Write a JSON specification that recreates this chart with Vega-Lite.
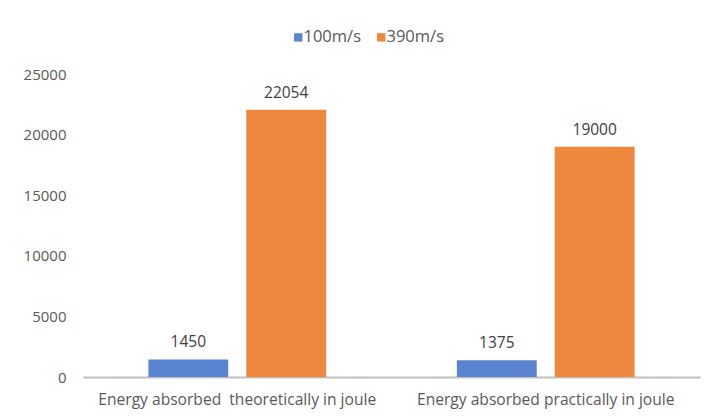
{
  "$schema": "https://vega.github.io/schema/vega-lite/v6.json",
  "autosize": "none",
  "width": 617,
  "height": 303,
  "padding": {"left": 83, "top": 74, "right": 12, "bottom": 39},
  "background": "white",
  "config": {
    "view": {"stroke": null},
    "font": "Open Sans",
    "axis": {"labelFont": "Open Sans", "labelColor": "#595959", "grid": false, "ticks": false, "title": null}
  },
  "data": {
    "values": [
      {"category": "Energy absorbed\u00a0 theoretically in joule", "speed": "100m/s", "energy": 1450},
      {"category": "Energy absorbed\u00a0 theoretically in joule", "speed": "390m/s", "energy": 22054},
      {"category": "Energy absorbed practically in joule", "speed": "100m/s", "energy": 1375},
      {"category": "Energy absorbed practically in joule", "speed": "390m/s", "energy": 19000}
    ]
  },
  "encoding": {
    "x": {
      "field": "category", "type": "nominal", "sort": null,
      "scale": {"paddingInner": 0, "paddingOuter": 0},
      "axis": {"labelAngle": 0, "labelFontSize": 15.6, "labelPadding": 15, "domainColor": "#bfbfbf", "domainWidth": 2, "labelLimit": 400}
    },
    "xOffset": {"field": "speed", "type": "nominal", "scale": {"paddingInner": 0.1837, "paddingOuter": 0.668}},
    "y": {
      "field": "energy", "type": "quantitative",
      "scale": {"domain": [0, 25000]},
      "axis": {"values": [0, 5000, 10000, 15000, 20000, 25000], "format": "d", "domain": false, "labelFontSize": 15, "labelPadding": 17}
    }
  },
  "layer": [
    {
      "mark": {"type": "bar"},
      "encoding": {
        "color": {
          "field": "speed", "type": "nominal",
          "scale": {"domain": ["100m/s", "390m/s"], "range": ["#5A84CF", "#F0873F"]},
          "legend": {
            "title": null, "orient": "none", "direction": "horizontal",
            "legendX": 207, "legendY": -45,
            "symbolType": "square", "symbolSize": 70, "symbolStrokeWidth": 0,
            "labelFontSize": 16.5, "labelColor": "#595959", "labelFont": "Open Sans",
            "columnPadding": 12, "labelOffset": -3
          }
        }
      }
    },
    {
      "mark": {"type": "text", "baseline": "bottom", "dy": -9, "fontSize": 15.5, "color": "#404040", "font": "Open Sans"},
      "encoding": {"text": {"field": "energy", "type": "quantitative", "format": "d"}}
    }
  ]
}
